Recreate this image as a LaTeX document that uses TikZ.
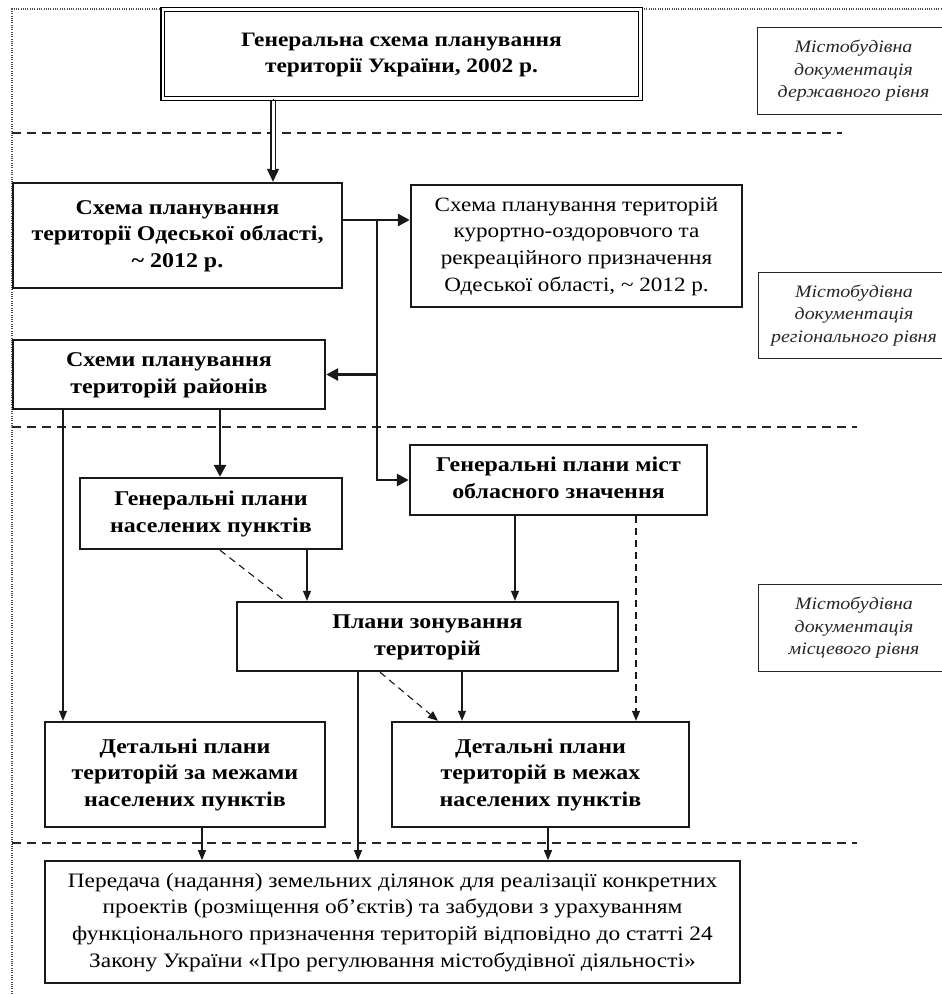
\documentclass[tikz,border=0pt]{standalone}
\usepackage{fontspec}
\setmainfont{Liberation Serif}[FakeStretch=1.14]
\usetikzlibrary{arrows.meta}
\newcommand\mlines[1]{\begin{tabular}{@{}c@{}}#1\end{tabular}}
\tikzset{
  bbox/.style={draw=black!90, line width=2.4pt, inner sep=2pt,
    font=\bfseries\fontsize{21}{26.7}\selectfont},
  nbox/.style={draw=black!90, line width=2.4pt, inner sep=2pt,
    font=\fontsize{20.3}{26.7}\selectfont},
  pbox/.style={draw=black!90, line width=1.6pt, inner sep=2pt,
    font=\fontsize{20.5}{26.8}\selectfont},
  lbox/.style={draw=black!85, line width=0.9pt, inner sep=2pt,
    font=\itshape\fontsize{17.5}{22.5}\selectfont, text=black!85},
  thickarr/.style={draw=black!90, line width=2.8pt, -{Triangle[length=12pt,width=12pt]}},
  thinarr/.style={draw=black!90, line width=1.1pt, -{Triangle[length=10pt,width=8pt]}},
  dasharr/.style={thinarr, dash pattern=on 7pt off 5pt},
  dashline/.style={draw=black!90, line width=1.1pt, dash pattern=on 7pt off 5pt},
  levelsep/.style={draw=black!85, line width=1.3pt, dash pattern=on 9pt off 6pt},
  framedot/.style={draw=black!70, line width=1.2pt, dash pattern=on 1pt off 1.3pt}
}
\begin{document}
\begin{tikzpicture}[x=1pt, y=-1pt]
\useasboundingbox (0,0) rectangle (942,994);

% outer dotted frame
\coordinate (f0) at (12,994);
\coordinate (f1) at (12,9);
\coordinate (f2) at (942,9);
\draw[framedot] (f0) -- (f1) -- (f2);

% level separators
\coordinate (s1a) at (12,133); \coordinate (s1b) at (842,133);
\coordinate (s2a) at (12,427); \coordinate (s2b) at (857,427);
\coordinate (s3a) at (12,843); \coordinate (s3b) at (857,843);
\draw[levelsep] (s1a) -- (s1b);
\draw[levelsep] (s2a) -- (s2b);
\draw[levelsep] (s3a) -- (s3b);

% nodes
\node[bbox, draw=none, minimum width=475, minimum height=87, font=\bfseries\fontsize{20.5}{26}\selectfont] (top) at (401.5,54)
  {\mlines{Генеральна схема планування\\території України, 2002 р.}};
\draw[double, double distance=2.6pt, line width=1.3pt] (top.south west) rectangle (top.north east);

\node[lbox, minimum width=193, minimum height=87] (l1) at (853.5,70.5)
  {\mlines{Містобудівна\\документація\\державного рівня}};

\node[bbox, minimum width=329, minimum height=105] (odesa) at (177.5,235.5)
  {\mlines{Схема планування\\території Одеської області,\\\textasciitilde{} 2012 р.}};

\node[nbox, minimum width=331, minimum height=122] (resort) at (576.5,246)
  {\mlines{Схема планування територій\\курортно-оздоровчого та\\рекреаційного призначення\\Одеської області, \textasciitilde{} 2012 р.}};

\node[lbox, minimum width=192, minimum height=86] (l2) at (854,315)
  {\mlines{Містобудівна\\документація\\регіонального рівня}};

\node[bbox, minimum width=312, minimum height=69] (rayon) at (169,374.5)
  {\mlines{Схеми планування\\територій районів}};

\node[bbox, minimum width=297, minimum height=70] (gpm) at (558.5,480)
  {\mlines{Генеральні плани міст\\обласного значення}};

\node[bbox, minimum width=262, minimum height=71] (gpn) at (211,513.5)
  {\mlines{Генеральні плани\\населених пунктів}};

\node[bbox, minimum width=381, minimum height=69] (zon) at (427.5,636.5)
  {\mlines{Плани зонування\\територій}};

\node[lbox, minimum width=192, minimum height=87] (l3) at (854,627.5)
  {\mlines{Містобудівна\\документація\\місцевого рівня}};

\node[bbox, minimum width=280, minimum height=105] (det1) at (185,774.5)
  {\mlines{Детальні плани\\територій за межами\\населених пунктів}};

\node[bbox, minimum width=297, minimum height=105] (det2) at (540.5,774.5)
  {\mlines{Детальні плани\\територій в межах\\населених пунктів}};

\node[pbox, minimum width=695, minimum height=122] (pered) at (392.5,922)
  {\mlines{Передача (надання) земельних ділянок для реалізації конкретних\\проектів (розміщення об’єктів) та забудови з урахуванням\\функціонального призначення територій відповідно до статті 24\\Закону України «Про регулювання містобудівної діяльності»}};

% connector guide coordinates
\coordinate (xa) at (273,0);
\coordinate (bus) at (377,220);
\coordinate (xr) at (220,0);
\coordinate (xl) at (63,0);
\coordinate (xg) at (307,0);
\coordinate (xm) at (515,0);
\coordinate (xmd) at (636,0);
\coordinate (xz) at (358,0);
\coordinate (xzd) at (380,0);
\coordinate (xzd2) at (438,0);
\coordinate (xz2) at (462,0);
\coordinate (xd1) at (202,0);
\coordinate (xd2) at (548,0);
\coordinate (xgd) at (285,0);

% top -> odesa (double line with filled head)
\draw[draw=black!90, line width=1pt, -{Triangle[length=13pt,width=12pt]}] (top.south -| xa) -- (odesa.north -| xa);
\draw[double=white, draw=black!90, double distance=3pt, line width=1.2pt, shorten >=12pt, shorten <=2pt] (top.south -| xa) -- (odesa.north -| xa);

% odesa -> resort, bus down
\draw[thickarr] (odesa.east |- bus) -- (resort.west |- bus);
\draw[thickarr] (bus) -- (bus |- gpm.west) -- (gpm.west);
\draw[thickarr] (bus |- rayon.east) -- (rayon.east);

% rayon
\draw[thickarr] (rayon.south -| xr) -- (gpn.north -| xr);
\draw[thinarr] (rayon.south -| xl) -- (det1.north -| xl);

% gpn -> zon
\draw[thinarr] (gpn.south -| xg) -- (zon.north -| xg);
\draw[dashline] (gpn.south -| xr) -- (zon.north -| xgd);

% gpm
\draw[thinarr] (gpm.south -| xm) -- (zon.north -| xm);
\draw[dasharr] (gpm.south -| xmd) -- (det2.north -| xmd);

% zon
\draw[thinarr] (zon.south -| xz) -- (pered.north -| xz);
\draw[dasharr] (zon.south -| xzd) -- (det2.north -| xzd2);
\draw[thinarr] (zon.south -| xz2) -- (det2.north -| xz2);

% details -> pered
\draw[thinarr] (det1.south -| xd1) -- (pered.north -| xd1);
\draw[thinarr] (det2.south -| xd2) -- (pered.north -| xd2);
\end{tikzpicture}
\end{document}
